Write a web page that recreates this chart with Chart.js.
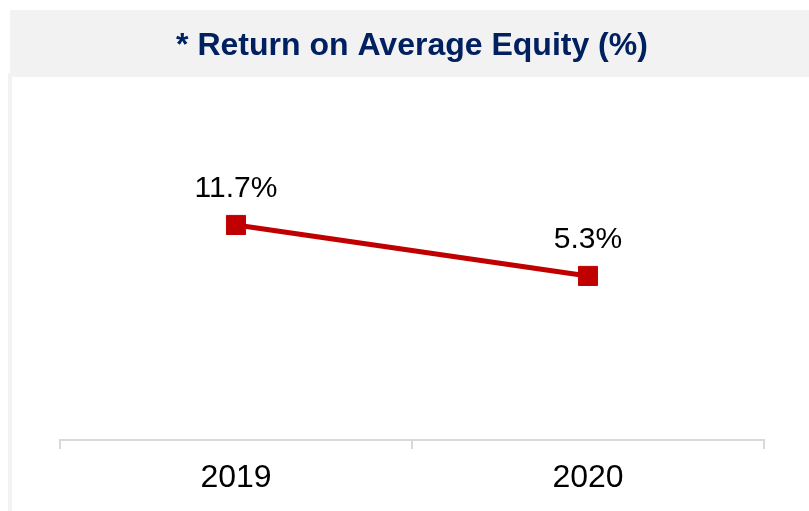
<!DOCTYPE html>
<html>
<head>
<meta charset="utf-8">
<script src="https://cdn.jsdelivr.net/npm/chart.js@4"></script>
<style>
  html, body { margin: 0; padding: 0; background: #fff; }
  #myChart { display: block; }
</style>
</head>
<body>
<canvas id="myChart" width="809" height="511"></canvas>
<script>
const years = ["2019", "2020"];
const roae = [11.7, 5.3];
const chartTitle = "* Return on Average Equity (%)";

// gray title band and thin strip on the left
const panel = {
    id: "panel",
    beforeDraw(chart) {
        const c = chart.ctx;
        c.save();
        c.fillStyle = "#f2f2f2";
        c.fillRect(10, 10, chart.width - 10, 67);
        c.fillRect(8, 73, 4, chart.height - 73);
        c.restore();
    },
};

// value labels above the points
const valueLabels = {
    id: "valueLabels",
    afterDatasetsDraw(chart) {
        const c = chart.ctx;
        const meta = chart.getDatasetMeta(0);
        c.save();
        c.font = "30px 'Liberation Sans', Arial, sans-serif";
        c.fillStyle = "#000";
        c.textAlign = "center";
        c.textBaseline = "alphabetic";
        meta.data.forEach((pt, i) => {
            c.fillText(roae[i].toFixed(1) + "%", pt.x, pt.y - 27.5);
        });
        c.restore();
    },
};

const ctx = document.getElementById("myChart");

new Chart(ctx, {
    type: "line",
    data: {
        labels: years,
        datasets: [
            {
                data: roae,
                borderColor: "#c00000",
                backgroundColor: "#c00000",
                borderWidth: 5,
                pointStyle: "rect",
                pointRadius: 13.5,
                pointBorderWidth: 1,
                pointBorderColor: "#c00000",
                pointBackgroundColor: "#c00000",
                tension: 0,
            },
        ],
    },
    options: {
        responsive: false,
        animation: false,
        layout: { padding: { top: 10, left: 60, right: 45, bottom: 3.6 } },
        plugins: {
            legend: { display: false },
            tooltip: { enabled: false },
            title: {
                display: true,
                text: chartTitle,
                color: "#002060",
                font: { family: "'Liberation Sans', Arial, sans-serif", size: 32, weight: "bold" },
                padding: { top: 17, bottom: 14.6 },
            },
        },
        scales: {
            x: {
                offset: true,
                grid: {
                    offset: true,
                    drawOnChartArea: false,
                    drawTicks: true,
                    tickLength: 9,
                    color: "#d9d9d9",
                    lineWidth: 2,
                },
                border: { color: "#d9d9d9", width: 2 },
                ticks: {
                    color: "#000",
                    padding: 10,
                    font: { family: "'Liberation Sans', Arial, sans-serif", size: 32 },
                },
            },
            y: {
                display: false,
                min: -15.3,
                max: 29.9,
            },
        },
    },
    plugins: [panel, valueLabels],
});
</script>
</body>
</html>
